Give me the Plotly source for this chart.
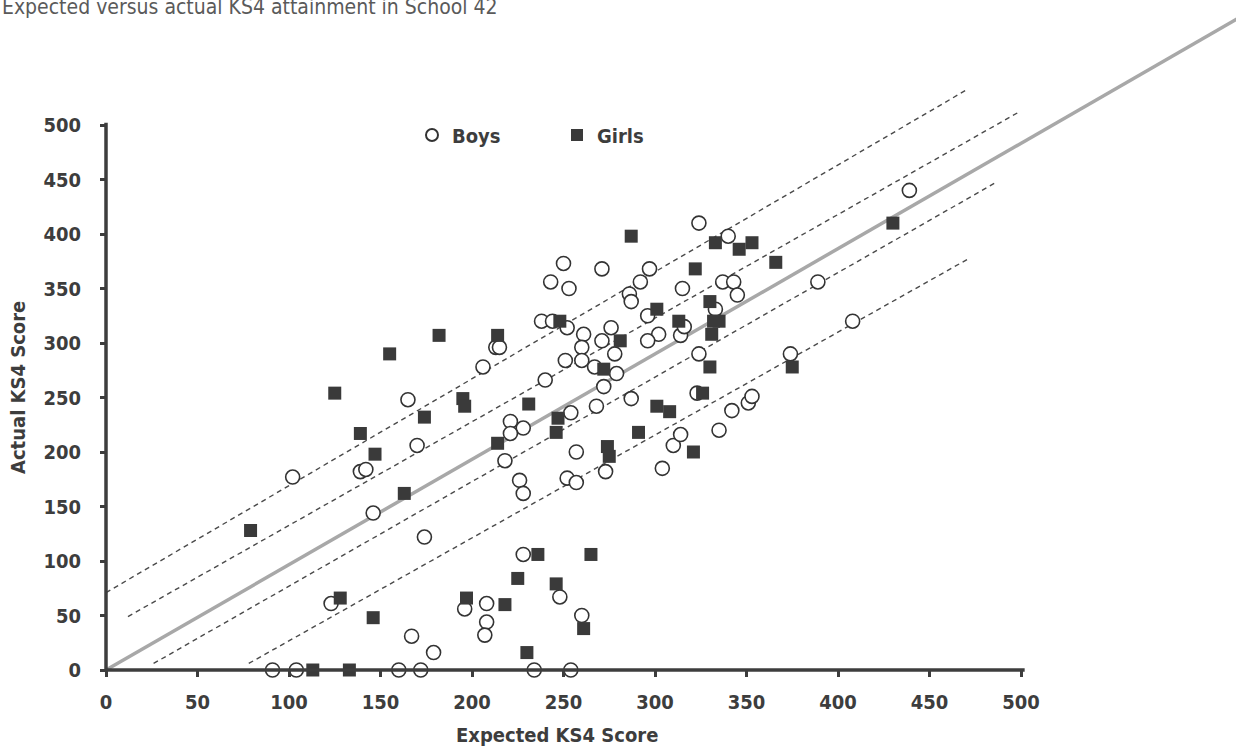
import plotly.graph_objects as go

# ---------------- data ----------------
boys_expected = [102, 139, 142, 146, 165, 170, 174, 123, 167, 179, 196, 208, 208, 207, 248, 260, 228,
                 91, 104, 160, 172, 234, 254,
                 206, 213, 215, 221, 228, 221, 218, 226, 228, 252, 257, 257, 273, 304, 310, 314,
                 250, 271, 243, 253, 297, 292, 286, 287, 315, 296, 238, 244, 252, 261, 271, 276,
                 260, 260, 251, 267, 278, 279, 272, 287, 268, 254, 240, 302, 296, 314, 316, 324,
                 335, 342, 351, 353, 374, 323, 324, 340, 337, 343, 345, 333, 389, 408, 439]
boys_actual = [177, 182, 184, 144, 248, 206, 122, 61, 31, 16, 56, 61, 44, 32, 67, 50, 106,
               0, 0, 0, 0, 0, 0,
               278, 296, 296, 228, 222, 217, 192, 174, 162, 176, 172, 200, 182, 185, 206, 216,
               373, 368, 356, 350, 368, 356, 345, 338, 350, 325, 320, 320, 314, 308, 302, 314,
               296, 284, 284, 278, 290, 272, 260, 249, 242, 236, 266, 308, 302, 307, 315, 290,
               220, 238, 245, 251, 290, 254, 410, 398, 356, 356, 344, 331, 356, 320, 440]

girls_expected = [79, 125, 139, 147, 155, 182, 214, 163, 174, 195, 196, 231, 247, 246, 214,
                  248, 281, 272, 287, 301, 301, 308, 291, 274, 275, 236, 265, 225, 246,
                  128, 146, 197, 218, 230, 261, 113, 133,
                  330, 375, 326, 321, 333, 346, 353, 322, 366, 330, 332, 335, 331, 313, 430]
girls_actual = [128, 254, 217, 198, 290, 307, 307, 162, 232, 249, 242, 244, 231, 218, 208,
                320, 302, 276, 398, 331, 242, 237, 218, 205, 196, 106, 106, 84, 79,
                66, 48, 66, 60, 16, 38, 0, 0,
                278, 278, 254, 200, 392, 386, 392, 368, 374, 338, 320, 320, 308, 320, 410]

x_ticks = [0, 50, 100, 150, 200, 250, 300, 350, 400, 450, 500]
y_ticks = [0, 50, 100, 150, 200, 250, 300, 350, 400, 450, 500]

# reference lines (end points)
diag_x = [0, 625]
diag_y = [0, 604]
band_lines_x = [[0, 471], [12, 499], [26, 486], [78, 471]]
band_lines_y = [[71, 533], [49, 512], [6, 447], [6, 377]]

# axis extents drawn by hand in the reference
x_axis_end = 502
y_axis_end = 502

# ---------------- styling ----------------
FONT = "DejaVu Sans Condensed, DejaVu Sans, Verdana, sans-serif"
DARK = "#3d3d3d"
W, H = 1236, 748
X0_PX, XS = 106, 1.83      # px of x=0, px per unit
Y0_PX, YS = 670, 1.09      # px of y=0, px per unit

x_range = [(0 - X0_PX) / XS, (W - X0_PX) / XS]
y_range = [(Y0_PX - H) / YS, Y0_PX / YS]

fig = go.Figure()

# diagonal reference line
fig.add_trace(go.Scatter(x=diag_x, y=diag_y, mode="lines",
                         line=dict(color="#a8a8a8", width=3.5),
                         showlegend=False, hoverinfo="skip"))
# dashed band lines
for lx, ly in zip(band_lines_x, band_lines_y):
    fig.add_trace(go.Scatter(x=lx, y=ly, mode="lines",
                             line=dict(color="#4a4a4a", width=1.4, dash="5px,4px"),
                             showlegend=False, hoverinfo="skip"))

fig.add_trace(go.Scatter(x=boys_expected, y=boys_actual, mode="markers", name="Boys",
                         marker=dict(symbol="circle", size=14, color="white",
                                     line=dict(color="#333333", width=1.6)),
                         cliponaxis=False))
fig.add_trace(go.Scatter(x=girls_expected, y=girls_actual, mode="markers", name="Girls",
                         marker=dict(symbol="square", size=13, color="#3a3a3a",
                                     line=dict(color="#3a3a3a", width=0)),
                         cliponaxis=False))

# axis lines
fig.add_shape(type="line", x0=0, x1=x_axis_end, y0=0, y1=0, xref="x", yref="y",
              line=dict(color=DARK, width=3.5), layer="above")
fig.add_shape(type="line", x0=0, x1=0, y0=0, y1=y_axis_end, xref="x", yref="y",
              line=dict(color=DARK, width=3.5), layer="above")

axis_common = dict(showgrid=False, zeroline=False, showline=False, ticks="outside",
                   ticklen=6, tickwidth=3, tickcolor=DARK, automargin=False,
                   tickfont=dict(family=FONT, size=20, color=DARK, weight="bold"))

fig.update_layout(
    template="none",
    width=W, height=H,
    margin=dict(l=0, r=0, t=0, b=0),
    paper_bgcolor="white", plot_bgcolor="white",
    xaxis=dict(domain=[0, 1], range=x_range, anchor="free", position=(H - Y0_PX) / H,
               tickvals=x_ticks, ticktext=[str(v) for v in x_ticks], ticklabelstandoff=8,
               **axis_common),
    yaxis=dict(domain=[0, 1], range=y_range, anchor="free", position=X0_PX / W,
               tickvals=y_ticks, ticktext=[str(v) for v in y_ticks], ticklabelstandoff=15,
               **axis_common),
    showlegend=True,
    legend=dict(orientation="h", x=412 / W, y=1 - 135 / H, xanchor="left", yanchor="middle",
                bgcolor="rgba(0,0,0,0)", borderwidth=0,
                font=dict(family=FONT, size=20, color=DARK, weight="bold"),
                entrywidth=100, entrywidthmode="pixels", itemsizing="constant"),
    annotations=[
        dict(text="Expected versus actual KS4 attainment in School 42", xref="paper", yref="paper",
             x=0, y=1 - 21 / H, xanchor="left", yanchor="bottom", showarrow=False,
             font=dict(family=FONT, size=21, color="#5a5a5a")),
        dict(text="Expected KS4 Score", xref="paper", yref="paper",
             x=557 / W, y=1 - 735 / H, xanchor="center", yanchor="middle", showarrow=False,
             font=dict(family=FONT, size=20, color=DARK, weight="bold")),
        dict(text="Actual KS4 Score", xref="paper", yref="paper", textangle=-90,
             x=18 / W, y=1 - 388 / H, xanchor="center", yanchor="middle", showarrow=False,
             font=dict(family=FONT, size=20, color=DARK, weight="bold")),
    ],
)

fig.write_html("out.html")
